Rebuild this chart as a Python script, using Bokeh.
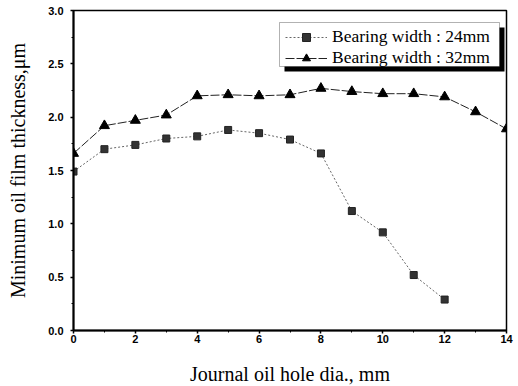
from bokeh.plotting import figure
from bokeh.models import Legend, LegendItem, Range1d, FixedTicker, BoxAnnotation, CustomJSTickFormatter
from bokeh.embed import file_html
from bokeh.resources import INLINE

x_24 = [0, 1, 2, 3, 4, 5, 6, 7, 8, 9, 10, 11, 12]
y_24 = [1.49, 1.70, 1.74, 1.80, 1.82, 1.88, 1.85, 1.79, 1.66, 1.12, 0.92, 0.52, 0.29]
x_32 = [0, 1, 2, 3, 4, 5, 6, 7, 8, 9, 10, 11, 12, 13, 14]
y_32 = [1.66, 1.92, 1.97, 2.02, 2.20, 2.21, 2.20, 2.21, 2.27, 2.24, 2.22, 2.22, 2.19, 2.05, 1.89]
x_ticks = [0, 2, 4, 6, 8, 10, 12, 14]
y_ticks = [0.0, 0.5, 1.0, 1.5, 2.0, 2.5, 3.0]
labels = ["Bearing width : 24mm", "Bearing width : 32mm"]

p = figure(frame_width=433, frame_height=320, output_backend="svg", toolbar_location=None,
           x_range=Range1d(0, 14), y_range=Range1d(0, 3),
           min_border_left=73, min_border_right=10, min_border_top=10, min_border_bottom=54)
p.background_fill_color = "white"
p.border_fill_color = "white"
p.outline_line_color = "black"
p.outline_line_width = 1.5
p.xgrid.visible = False
p.ygrid.visible = False

for ax in (p.xaxis[0], p.yaxis[0]):
    ax.axis_line_width = 2
    ax.axis_line_color = "black"
    ax.major_tick_line_width = 1.5
    ax.major_tick_out = 3
    ax.major_tick_in = 0
    ax.minor_tick_out = 2
    ax.minor_tick_in = 0
    ax.major_label_text_font = "Liberation Sans"
    ax.major_label_text_font_style = "bold"
    ax.major_label_text_font_size = "11px"
    ax.major_label_text_color = "black"
    ax.axis_label_text_font = "Liberation Serif"
    ax.axis_label_text_font_style = "normal"
    ax.axis_label_text_font_size = "20px"
    ax.axis_label_text_color = "black"

p.xaxis[0].ticker = FixedTicker(ticks=x_ticks, minor_ticks=list(range(0, 15)))
p.yaxis[0].ticker = FixedTicker(ticks=y_ticks, minor_ticks=[i * 0.25 for i in range(13)])
p.xaxis[0].formatter = CustomJSTickFormatter(code="return tick.toFixed(0);")
p.yaxis[0].formatter = CustomJSTickFormatter(code="return tick.toFixed(1);")
p.xaxis[0].axis_label = "Journal oil hole dia., mm"
p.yaxis[0].axis_label = "Minimum oil film thickness,\u03bcm"
p.xaxis[0].major_label_standoff = 1
p.yaxis[0].major_label_standoff = 7
p.xaxis[0].axis_label_standoff = 17
p.yaxis[0].axis_label_standoff = 16

l1 = p.line(x_24, y_24, line_color="#666666", line_width=1, line_dash="2 2")
m1 = p.scatter(x_24, y_24, marker="square", size=7, fill_color="#333333", line_color="#222222")
l2 = p.line(x_32, y_32, line_color="#222222", line_width=1, line_dash="9 2")
m2 = p.scatter(x_32, y_32, marker="triangle", size=10, fill_color="black", line_color="black")

shadow = BoxAnnotation(left=211, right=431, top=303, bottom=259,
                       left_units="screen", right_units="screen",
                       top_units="screen", bottom_units="screen",
                       fill_color="black", fill_alpha=1.0, line_color=None, level="overlay")
p.add_layout(shadow)
box = BoxAnnotation(left=206, right=426, top=308, bottom=264,
                    left_units="screen", right_units="screen",
                    top_units="screen", bottom_units="screen",
                    fill_color="white", fill_alpha=1.0, line_color="black", line_width=1,
                    level="overlay")
p.add_layout(box)

legend = Legend(items=[LegendItem(label=labels[0], renderers=[l1, m1]),
                       LegendItem(label=labels[1], renderers=[l2, m2])],
                location=(212, 262))
legend.label_text_font = "Liberation Serif"
legend.label_text_font_size = "17.5px"
legend.label_text_color = "black"
legend.border_line_color = None
legend.background_fill_alpha = 0.0
legend.padding = 2
legend.spacing = 0
legend.glyph_width = 42
legend.label_standoff = 5
legend.label_height = 20
legend.glyph_height = 20
legend.margin = 0
p.add_layout(legend)

open("out.html", "w").write(file_html(p, INLINE))
